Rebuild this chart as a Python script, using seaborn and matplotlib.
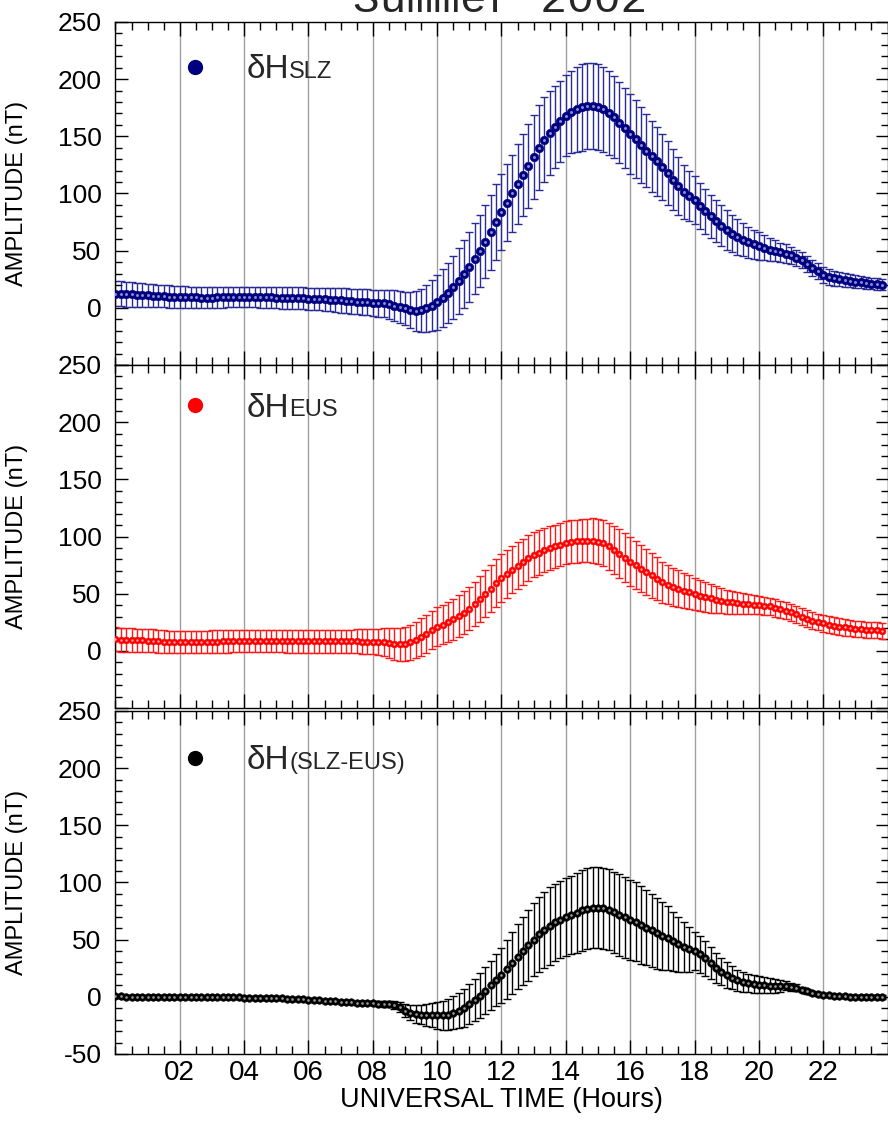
import numpy as np
import pandas as pd
import seaborn as sns
import matplotlib.pyplot as plt
from matplotlib.lines import Line2D
from matplotlib.ticker import MultipleLocator

# Universal time, one value every 10 minutes (0h00 .. 23h50)
hours = np.arange(144) / 6

# dH at SLZ (nT), one row per hour
slz_mean = [
    12.5, 12.3, 12.0, 11.8, 11.5, 11.2,
    11.0, 10.7, 10.4, 10.1, 9.9, 9.7,
    9.5, 9.4, 9.2, 9.1, 9.0, 9.0,
    9.0, 9.1, 9.2, 9.3, 9.4, 9.5,
    9.5, 9.5, 9.4, 9.3, 9.2, 9.1,
    9.0, 8.8, 8.7, 8.5, 8.3, 8.2,
    8.0, 7.8, 7.5, 7.3, 7.0, 6.8,
    6.5, 6.2, 5.9, 5.5, 5.2, 4.8,
    4.5, 4.2, 3.8, 3.0, 2.0, 1.0,
    -0.5, -2.0, -2.8, -2.2, -0.5, 2.0,
    5.0, 8.5, 13.0, 18.0, 23.5, 29.5,
    36.0, 43.0, 50.0, 58.0, 66.0, 75.0,
    84.0, 92.0, 100.0, 108.0, 116.0, 124.0,
    132.0, 140.0, 147.0, 153.0, 158.0, 163.0,
    168.0, 171.0, 173.5, 175.5, 176.5, 176.5,
    175.5, 173.5, 170.5, 167.0, 162.0, 157.0,
    152.0, 147.5, 142.5, 137.5, 132.5, 128.0,
    123.0, 117.5, 112.0, 106.5, 101.0, 97.5,
    94.0, 89.0, 84.5, 80.0, 76.0, 72.0,
    68.0, 65.0, 62.0, 59.5, 57.5, 55.5,
    54.0, 52.5, 51.0, 50.0, 48.5, 47.5,
    46.0, 44.0, 41.5, 38.5, 35.0, 32.0,
    28.5, 27.0, 26.0, 25.0, 24.3, 23.6,
    23.0, 22.4, 21.8, 21.2, 20.7, 20.3,
]
slz_err = [
    11, 11, 11, 10.8, 10.6, 10.4,
    10.2, 10, 10, 9.8, 9.7, 9.6,
    9.5, 9.4, 9.3, 9.2, 9.2, 9.1,
    9, 9, 9, 9, 9, 9,
    9, 9, 9, 9.1, 9.2, 9.3,
    9.3, 9.4, 9.4, 9.5, 9.5, 9.6,
    9.6, 9.7, 9.8, 10, 10.2, 10.4,
    10.6, 10.8, 11, 11.2, 11.3, 11.4,
    11.5, 11.8, 12.2, 12.8, 13.5, 14,
    14.5, 16, 17.5, 19, 20.5, 22,
    24, 25.5, 26.5, 27.5, 28.5, 29.5,
    30.5, 31, 31.5, 32, 32.5, 33,
    33, 33.5, 34, 35, 36, 36.5,
    37, 37, 37, 36.5, 36, 35.5,
    35.5, 36, 37, 38, 38, 38,
    37.5, 37, 36.5, 36, 35.5, 35,
    35, 34, 33, 32, 31, 30,
    29, 28, 26.5, 25, 23.5, 22,
    21, 20, 19.5, 19, 18.5, 18,
    17.5, 16.5, 15.5, 14.5, 13.5, 12.5,
    12, 11, 10, 9, 8.5, 8,
    7.5, 7, 7, 7, 7, 7,
    7, 6.8, 6.5, 6.2, 6, 5.8,
    5.6, 5.4, 5.2, 5, 5, 5,
]

# dH at EUS (nT)
eus_mean = [
    10.0, 9.8, 9.6, 9.4, 9.3, 9.1,
    9.0, 8.7, 8.4, 8.1, 7.9, 7.7,
    7.5, 7.5, 7.6, 7.7, 7.8, 7.9,
    8.0, 8.1, 8.2, 8.3, 8.4, 8.5,
    8.5, 8.5, 8.5, 8.5, 8.5, 8.5,
    8.5, 8.5, 8.5, 8.5, 8.5, 8.5,
    8.5, 8.5, 8.5, 8.4, 8.4, 8.4,
    8.3, 8.3, 8.2, 8.2, 8.1, 8.1,
    8.0, 7.8, 7.4, 6.8, 6.2, 5.8,
    6.2, 7.5, 9.5, 12.0, 15.0, 18.0,
    21.0, 23.0, 25.0, 27.5, 30.5, 33.5,
    37.0, 41.0, 45.5, 50.0, 54.5, 59.0,
    64.0, 67.5, 71.0, 74.5, 78.0, 81.0,
    84.0, 86.0, 88.0, 90.0, 91.5, 93.0,
    94.5, 95.5, 96.0, 96.5, 96.5, 96.3,
    95.5, 94.0, 91.5, 88.5, 85.0, 81.5,
    78.0, 75.0, 72.0, 69.0, 66.0, 63.0,
    60.0, 58.0, 56.0, 54.3, 52.7, 51.2,
    49.7, 48.3, 47.0, 45.8, 44.8, 43.8,
    43.0, 42.3, 41.7, 41.2, 40.8, 40.4,
    40.0, 39.5, 38.8, 37.5, 36.2, 35.0,
    33.6, 31.8, 30.0, 28.0, 26.5, 25.2,
    24.0, 23.0, 22.0, 21.2, 20.5, 20.0,
    19.5, 19.0, 18.6, 18.2, 17.9, 17.5,
]
eus_err = [
    10.5, 10.4, 10.3, 10.2, 10.1, 10,
    10, 10, 9.9, 9.9, 9.8, 9.8,
    9.8, 9.8, 9.8, 9.8, 9.8, 9.8,
    9.8, 9.8, 9.8, 9.8, 9.8, 9.8,
    9.8, 9.8, 9.8, 9.8, 9.9, 9.9,
    9.9, 9.9, 10, 10, 10, 10,
    10, 10, 10, 10.1, 10.1, 10.2,
    10.2, 10.3, 10.4, 10.5, 10.6, 10.8,
    11, 11.5, 12.2, 13, 13.8, 14.5,
    15, 15.5, 16, 16.3, 16.6, 16.8,
    17, 17.3, 17.6, 18, 18.4, 18.8,
    19.2, 19.6, 20, 20.4, 20.7, 21,
    21, 21, 20.8, 20.5, 20.2, 20,
    19.8, 19.6, 19.4, 19.2, 19, 19,
    18.8, 18.8, 18.8, 19, 19.2, 19.5,
    19.8, 20.2, 20.6, 21, 21.2, 21.3,
    21.3, 21, 20.5, 20, 19.5, 18.8,
    18, 17.3, 16.6, 16, 15.4, 14.8,
    14.2, 13.6, 13, 12.3, 11.6, 11,
    10.4, 9.9, 9.4, 9, 8.6, 8.3,
    8, 7.8, 7.6, 7.5, 7.4, 7.3,
    7.3, 7.3, 7.3, 7.3, 7.2, 7.2,
    7.2, 7.2, 7.2, 7.1, 7.1, 7.1,
    7, 7, 7, 7, 7, 7,
]

# dH(SLZ-EUS) (nT)
dif_mean = [
    0.3, 0.3, 0.2, 0.2, 0.1, 0.1,
    0.0, 0.0, -0.1, -0.1, -0.2, -0.2,
    -0.3, -0.3, -0.3, -0.4, -0.4, -0.4,
    -0.5, -0.5, -0.5, -0.6, -0.6, -0.6,
    -0.7, -0.7, -0.8, -0.9, -1.0, -1.1,
    -1.2, -1.4, -1.6, -1.8, -2.0, -2.2,
    -2.5, -2.8, -3.1, -3.4, -3.7, -4.0,
    -4.3, -4.6, -4.9, -5.2, -5.4, -5.6,
    -5.8, -6.0, -6.2, -6.3, -7.0, -9.0,
    -12.0, -14.0, -15.0, -15.5, -16.0, -16.2,
    -16.3, -16.2, -15.5, -14.0, -12.0, -9.5,
    -6.5, -3.0, 1.0, 5.5, 10.0, 14.5,
    19.0, 24.0, 29.5, 35.0, 40.0, 45.0,
    50.0, 54.5, 58.5, 62.0, 65.0, 67.5,
    69.5, 71.5, 73.5, 75.5, 77.0, 78.0,
    78.0, 77.5, 76.0, 74.0, 71.5, 69.5,
    67.5, 65.5, 63.0, 60.5, 58.0, 55.5,
    53.0, 51.0, 48.5, 46.0, 43.5, 41.5,
    40.0, 37.0, 33.5, 29.5, 25.5, 22.0,
    19.0, 16.5, 14.5, 13.0, 12.0, 11.0,
    10.4, 10.0, 9.8, 9.6, 9.5, 9.6,
    9.0, 7.8, 6.3, 4.8, 3.5, 2.5,
    1.7, 1.2, 0.8, 0.5, 0.3, 0.2,
    0.1, 0.0, 0.0, 0.0, 0.0, 0.0,
]
dif_err = [
    1.5, 1.5, 1.5, 1.5, 1.5, 1.5,
    1.5, 1.5, 1.5, 1.5, 1.5, 1.5,
    1.5, 1.5, 1.5, 1.5, 1.5, 1.5,
    1.5, 1.5, 1.5, 1.5, 1.5, 1.5,
    1.5, 1.5, 1.5, 1.5, 1.5, 1.5,
    1.5, 1.5, 1.5, 1.5, 1.5, 1.5,
    1.5, 1.5, 1.5, 1.5, 1.5, 1.5,
    1.5, 1.5, 1.5, 1.6, 1.6, 1.7,
    1.8, 2, 2.3, 2.8, 3.5, 4.5,
    5.5, 6.5, 7.5, 8.5, 9.5, 10.5,
    11.5, 12.5, 13.5, 14.5, 15.5, 16.5,
    17.5, 18.5, 19.5, 20.5, 21.5, 22.5,
    24, 25.5, 27, 28.5, 30, 31,
    32, 33, 33.5, 34, 34, 34,
    34, 34.5, 35, 35.5, 35.5, 35.5,
    35.5, 35.5, 35.5, 35.5, 35.5, 35.2,
    35, 34.5, 34, 33, 32, 31,
    29.5, 28, 26, 24, 22, 19.5,
    17, 16, 15, 14, 13, 12,
    11, 10, 9.3, 8.7, 8.2, 7.8,
    7.5, 7, 6.5, 6, 5, 4,
    3.5, 3, 2.5, 2.2, 2, 1.8,
    1.5, 1.5, 1.5, 1.5, 1.5, 1.5,
    1.5, 1.5, 1.5, 1.5, 1.5, 1.5,
]

df = pd.DataFrame({
    "hour": hours,
    "slz": slz_mean, "slz_err": slz_err,
    "eus": eus_mean, "eus_err": eus_err,
    "dif": dif_mean, "dif_err": dif_err,
})

x_ticks = list(range(2, 24, 2))
x_labels = ["%02d" % h for h in x_ticks]
y_ticks = list(range(-50, 251, 50))

# (column, marker colour, bar colour, highlight, main label, small label, size)
panels = [
    ("slz", "#000080", "#2b2b95", "#8c8cd0", "\u03b4H", "SLZ", 38),
    ("eus", "#ff0000", "#ff1a1a", "#ffb0b0", "\u03b4H", "EUS", 24),
    ("dif", "#000000", "#000000", "#9a9a9a", "\u03b4H", "(SLZ-EUS)", 30),
]
legend_y = [0.860, 0.874, 0.855]

sns.set_theme(style="ticks")
plt.rcParams["font.family"] = ["Liberation Sans", "DejaVu Sans"]

fig = plt.figure(figsize=(8.88, 11.21), dpi=100)
bottoms = [0.6744, 0.3684, 0.0598]

for i, (col, mc, ec, hc, main, sub, size) in enumerate(panels):
    ax = fig.add_axes([0.130, bottoms[i], 0.8695, 0.306])

    ax.errorbar(df["hour"], df[col], yerr=df[col + "_err"], fmt="none",
                ecolor=ec, elinewidth=1, capsize=2.6, capthick=1, zorder=2)
    sns.scatterplot(data=df, x="hour", y=col, ax=ax, color=mc, s=size,
                    edgecolor=mc, linewidth=0.4, zorder=3, legend=False)
    sns.scatterplot(data=df, x="hour", y=col, ax=ax, color=hc, s=size * 0.12,
                    linewidth=0, zorder=4, legend=False)

    ax.set_xlim(0, 24)
    ax.set_ylim(-50, 250)
    ax.set_xticks(x_ticks)
    ax.xaxis.set_minor_locator(MultipleLocator(0.5))
    ax.set_yticks(y_ticks)
    ax.yaxis.set_minor_locator(MultipleLocator(10))
    ylabels = [str(v) for v in y_ticks]
    if i < 2:
        ylabels[0] = ""
    ax.set_yticklabels(ylabels)
    ax.grid(axis="x", which="major", color="#a0a0a0", lw=1, zorder=0)

    ax.tick_params(which="both", direction="in", top=True, right=True,
                   color="black", width=1)
    ax.tick_params(axis="x", which="major", length=10)
    ax.tick_params(axis="x", which="minor", length=5.5)
    ax.tick_params(axis="y", which="major", length=9)
    ax.tick_params(axis="y", which="minor", length=5)
    ax.tick_params(axis="y", labelsize=19, pad=10, labelcolor="black")
    ax.tick_params(axis="x", labelsize=20, pad=4, labelcolor="black")
    for s in ax.spines.values():
        s.set_color("black")
        s.set_linewidth(1)

    if i == 2:
        ax.set_xticklabels(x_labels)
        ax.set_xlabel("UNIVERSAL TIME (Hours)", fontsize=19.5, color="black")
        ax.xaxis.set_label_coords(0.5, -0.095)
    else:
        ax.tick_params(axis="x", labelbottom=False)
        ax.set_xlabel("")

    ax.set_ylabel("AMPLITUDE (nT)", fontsize=17, color="black")
    ax.yaxis.set_label_coords(-0.113, 0.5)

    handle = Line2D([], [], marker="o", ls="", color=mc, markersize=10)
    leg = ax.legend([handle], [main], loc="center left",
                    bbox_to_anchor=(0.081, legend_y[i]), frameon=False,
                    fontsize=24, handlelength=1, handletextpad=1.06,
                    borderpad=0, borderaxespad=0)
    # small suffix drawn after the legend so its text position is known
    ax.annotate(sub, xy=(1, 0), xycoords=leg.get_texts()[0],
                xytext=(0, 1.8), textcoords="offset points",
                ha="left", va="bottom", fontsize=17, zorder=6)

fig.text(0.563, 1 - 12 / 1121, "Summer 2002", family="Liberation Mono",
         fontsize=32, ha="center", va="baseline")

fig.savefig("out.png", dpi=100)
